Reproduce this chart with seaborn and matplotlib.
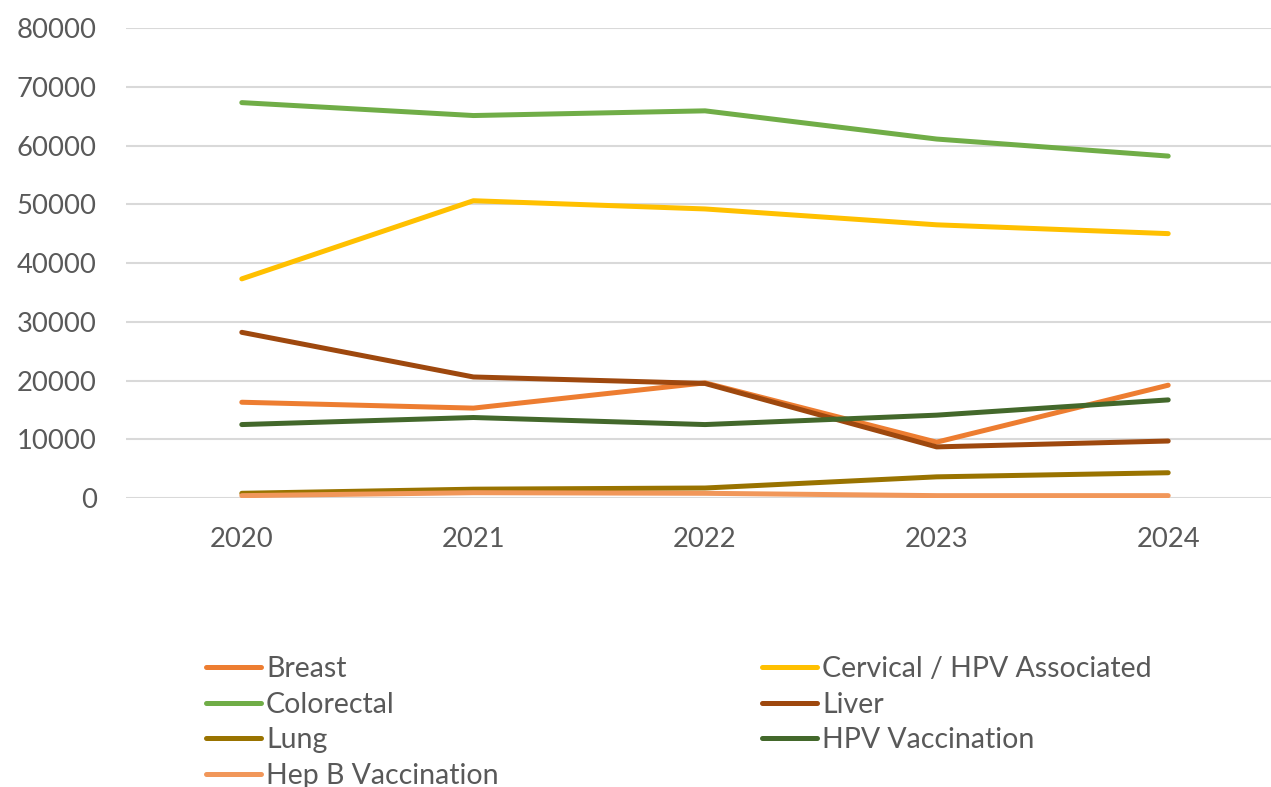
import pandas as pd
import seaborn as sns
import matplotlib.pyplot as plt

years = ["2020", "2021", "2022", "2023", "2024"]
breast = [16300, 15300, 19600, 9500, 19200]
cervical = [37300, 50600, 49200, 46500, 45000]
colorectal = [67300, 65100, 65900, 61100, 58200]
liver = [28200, 20600, 19500, 8700, 9700]
lung = [800, 1500, 1700, 3600, 4300]
hpv_vacc = [12500, 13700, 12500, 14100, 16700]
hepb_vacc = [400, 900, 800, 400, 400]

series = {
    "Breast": breast,
    "Cervical / HPV Associated": cervical,
    "Colorectal": colorectal,
    "Liver": liver,
    "Lung": lung,
    "HPV Vaccination": hpv_vacc,
    "Hep B Vaccination": hepb_vacc,
}
colors = {
    "Breast": "#ED7D31",
    "Cervical / HPV Associated": "#FFC000",
    "Colorectal": "#70AD47",
    "Liver": "#9E480E",
    "Lung": "#997300",
    "HPV Vaccination": "#43682B",
    "Hep B Vaccination": "#F1975A",
}

rows = []
for name, vals in series.items():
    for y, v in zip(years, vals):
        rows.append({"year": y, "value": v, "series": name})
df = pd.DataFrame(rows)

sns.set_style("white")
plt.rcParams["font.family"] = ["Lato", "DejaVu Sans"]

fig = plt.figure(figsize=(12.71, 7.87), dpi=100)
ax = fig.add_axes([126 / 1271, 1 - 498 / 787, 1158 / 1271, 470 / 787])

sns.lineplot(data=df, x="year", y="value", hue="series", palette=colors,
             hue_order=list(series.keys()), linewidth=3.6, sort=False,
             ax=ax, legend=False, solid_capstyle="round")

ax.set_xlim(-0.5, 4.5)
ax.set_ylim(0, 80000)
ax.set_yticks(range(0, 80001, 10000))
ax.yaxis.grid(True, color="#D9D9D9", linewidth=1.5)
ax.set_axisbelow(True)
for s in ax.spines.values():
    s.set_visible(False)
ax.tick_params(axis="both", length=0, labelsize=19.7, labelcolor="#595959")
ax.tick_params(axis="x", pad=21)
ax.tick_params(axis="y", pad=21)
ax.set_xlabel("")
ax.set_ylabel("")

# legend laid out row-wise like the original
order = ["Breast", "Colorectal", "Lung", "Hep B Vaccination",
         "Cervical / HPV Associated", "Liver", "HPV Vaccination"]
handles = [plt.Line2D([], [], color=colors[n], linewidth=3.6,
                      solid_capstyle="round") for n in order]
fig.legend(handles, order, loc="upper left", bbox_to_anchor=(206 / 1271, 1 - 656 / 787),
           ncol=2, frameon=False, fontsize=20.5, labelcolor="#595959",
           handlelength=1.93, handletextpad=0.18, columnspacing=9.26,
           labelspacing=0.34, borderpad=0, borderaxespad=0)

plt.savefig("out.png", dpi=100)
